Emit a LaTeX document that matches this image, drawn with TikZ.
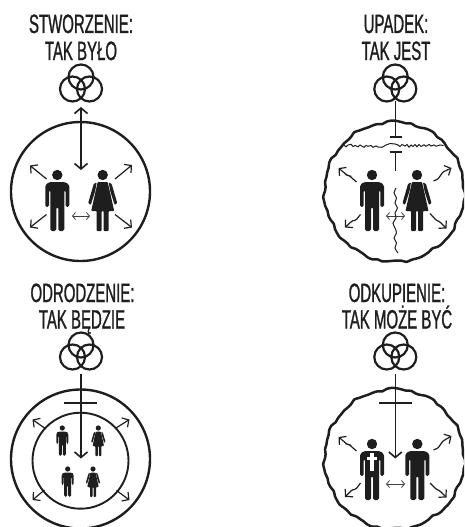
\documentclass[tikz,border=0pt]{standalone}
\usepackage{fontspec}
\usetikzlibrary{arrows.meta}
\newfontfamily\condfont[FakeStretch=0.565,FakeBold=1.0]{Liberation Sans}
\definecolor{ink}{HTML}{1E1E1E}
\tikzset{
  title/.style={font=\condfont\fontsize{26.5}{26.5}\selectfont,text=ink,inner sep=0pt,anchor=base},
  ring/.style={draw=ink,line width=2.4pt},
  bigarr/.style={draw=ink,line width=1.6pt,-{Straight Barb[length=5.5pt,width=13pt,line width=1.6pt]}},
  bigboth/.style={draw=ink,line width=1.6pt,{Straight Barb[length=5.5pt,width=13pt,line width=1.6pt]}-{Straight Barb[length=5.5pt,width=13pt,line width=1.6pt]}},
  smallarr/.style={draw=ink,line width=1.2pt,-{Straight Barb[length=5pt,width=11pt,line width=1.2pt]}},
  thinboth/.style={draw=ink!85,line width=.8pt,{Straight Barb[length=3pt,width=7pt,line width=.8pt]}-{Straight Barb[length=3pt,width=7pt,line width=.8pt]}},
  barline/.style={draw=ink,line width=1.6pt},
  crack/.style={draw=ink,line width=1pt},
  pics/trinity/.style={code={
    \draw[draw=ink,line width=2.2pt] (0,-12) circle (12.5) (-8.5,0) circle (12.5) (8.5,0) circle (12.5);
  }},
  pics/man/.style={code={
    \fill[ink] (0,0) circle (5.2);
    \fill[ink,rounded corners=1.6pt] (-8,7) -- (8,7) -- (12,10) -- (12,32) -- (8.3,32) -- (8.3,15) -- (7,15) -- (7,56) -- (1,56) -- (1,32) -- (-1,32) -- (-1,56) -- (-7,56) -- (-7,15) -- (-8.3,15) -- (-8.3,32) -- (-12,32) -- (-12,10) -- cycle;
  }},
  pics/woman/.style={code={
    \fill[ink] (0,0) circle (5.2);
    \fill[ink,rounded corners=.8pt] (-5,7) -- (5,7) -- (7.5,18) -- (11.5,36) -- (6,36) -- (6,56) -- (1,56) -- (1,36) -- (-1,36) -- (-1,56) -- (-6,56) -- (-6,36) -- (-11.5,36) -- (-7.5,18) -- cycle;
    \fill[ink,rounded corners=.8pt] (6,7.3) -- (9,9) -- (14.5,28) -- (12,30) -- (7.5,16) -- cycle;
    \fill[ink,rounded corners=.8pt] (-6,7.3) -- (-9,9) -- (-14.5,28) -- (-12,30) -- (-7.5,16) -- cycle;
  }}
}
\newcommand{\wobblering}[3]{%
  \draw[ring,line width=#3] plot[smooth cycle,samples=90,domain=0:356]
    ({#1+(70+.8*sin(11*\x)+.6*sin(23*\x+40)+.4*sin(37*\x+10))*cos(\x)},
     {#2+(70+.8*sin(11*\x)+.6*sin(23*\x+40)+.4*sin(37*\x+10))*sin(\x)});}
\begin{document}
\begin{tikzpicture}[x=1pt,y=-1pt]
\useasboundingbox (0,0) rectangle (464,527);
\clip (0,0) rectangle (464,527);

% ---- Stworzenie
\node[title] (t1a) at (81,33) {STWORZENIE:};
\node[title] (t1b) at (81,60) {TAK BYŁO};
\pic at (81,89) {trinity};
\draw[ring] (80.5,191.5) circle (69.5);
\draw[bigboth] (81,107) -- (81,170);
\pic at (57.3,175) {man};
\pic at (102.7,175) {woman};
\draw[smallarr] (46.5,179) -- (30,165.5);
\draw[smallarr] (115,179) -- (132,165);
\draw[smallarr] (46.5,214.5) -- (30,227.5);
\draw[smallarr] (115,214.5) -- (132,227.5);
\draw[thinboth] (72,216) -- (90,216);

% ---- Upadek
\node[title] (t2a) at (396,33) {UPADEK:};
\node[title] (t2b) at (396,60) {TAK JEST};
\pic at (395.3,89) {trinity};
\wobblering{394.3}{191.7}{2.5pt}
\draw[barline] (395.3,101) -- (395.3,137);
\draw[barline] (389.5,137) -- (401.5,137);
\draw[barline] (389.5,152) -- (401.5,152);
\draw[barline] (395.3,152) -- (395.3,171);
\draw[crack] plot coordinates {(343.7,145)(346,146.8)(348,145)(351,144.3)(353,146.5)(355,145.5)(358,146.8)(360,145)(364,147.3)(366,145.5)(368,146.3)(371,145.5)(373,147.3)(376,146)(378,147)(382,147.3)(386,145)(390,143.5)(395,144)(398,145)(400,146.5)(402,144.5)(405,146)(407,144.5)(409,147.2)(411,145)(413,146.5)(415,144.5)(417,146.8)(419,144.5)(421,146.5)(424,144.8)(426,146.3)(429,144.5)(431,146)(434,145)(436,146.2)(440,145)(443.7,145.5)};
\pic at (372,175) {man};
\pic at (417,175) {woman};
\draw[smallarr,rounded corners=1pt] (356.5,182) -- (349,175.5) -- (347.5,175.5) -- (338.5,168);
\draw[smallarr,rounded corners=1pt] (433.5,181) -- (438,179) -- (443,172) -- (451.5,168);
\draw[smallarr,rounded corners=1pt] (360.5,214.5) -- (356,220) -- (352,221) -- (345,227.5);
\draw[smallarr,rounded corners=1pt] (430,213.5) -- (436,220) -- (440,222) -- (446.5,228.5);
\draw[thinboth] (386,216) -- (405,216);
\draw[crack] plot[smooth] coordinates {(396,188)(394,193)(396.5,198)(395,203)(397.5,208)(395,213)(396,218)(393,223)(395,228)(396.5,233)(394,238)(396.5,243)(395,248)(398,253)};

% ---- Odrodzenie
\node[title] (t3a) at (82.5,302) {ODRODZENIE:};
\node[title] (t3b) at (82,328.5) {TAK BĘDZIE};
\pic at (81,357) {trinity};
\draw[ring] (80.5,459) circle (69.5);
\draw[ring,line width=1.9pt] (80.5,460.7) circle (48);
\draw[bigarr] (81,374) -- (81,458.5);
\draw[barline] (64,403) -- (97,403);
\pic[scale=.5] at (62.3,428) {man};
\pic[scale=.5] at (98.3,428) {woman};
\pic[scale=.5] at (67.7,469) {man};
\pic[scale=.5] at (93,469) {woman};
\draw[smallarr] (44.5,428) -- (32.5,419.5);
\draw[smallarr] (116,428) -- (129.5,419.5);
\draw[smallarr] (44.5,490) -- (32.5,500);
\draw[smallarr] (116.5,490.5) -- (129.5,500);

% ---- Odkupienie
\node[title] (t4a) at (397,302) {ODKUPIENIE:};
\node[title] (t4b) at (397,328.5) {TAK MOŻE BYĆ};
\pic at (395.3,357) {trinity};
\wobblering{394.3}{459}{2.5pt}
\draw[bigarr] (395.3,374) -- (395.3,458.5);
\draw[barline] (378.7,403) -- (412,403);
\pic at (372,444) {man};
\draw[white,line width=3.4pt] (372,453) -- (372,471);
\draw[white,line width=3.4pt] (366.8,458.5) -- (377.2,458.5);
\pic at (417.3,444) {man};
\draw[smallarr,rounded corners=1pt] (356.5,451) -- (349,444.5) -- (347.5,444.5) -- (338.5,437);
\draw[smallarr,rounded corners=1pt] (433.5,450) -- (438,448) -- (443,441) -- (451.5,436);
\draw[smallarr,rounded corners=1pt] (360.5,483) -- (356,489) -- (352,490) -- (345,497);
\draw[smallarr,rounded corners=1pt] (430,483) -- (436,489) -- (440,491) -- (446.5,497.5);
\draw[thinboth] (386,484) -- (405,484);
\end{tikzpicture}
\end{document}
